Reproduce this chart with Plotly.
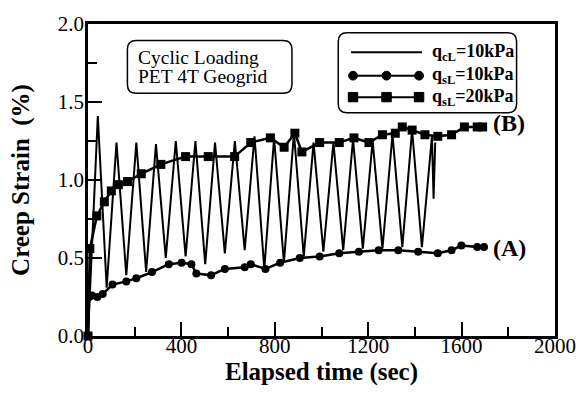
import plotly.graph_objects as go

# ---------------- data ----------------
# Cyclic loading, q_cL = 10 kPa (thin line)
cyc_t = [0, 42, 80, 122, 164, 207, 249, 291, 333, 376, 418, 460, 502, 544, 586,
         629, 671, 713, 755, 797, 839, 882, 924, 966, 1008, 1051, 1093, 1135,
         1177, 1219, 1261, 1304, 1346, 1388, 1430, 1473, 1480, 1487]
cyc_s = [0.00, 1.41, 0.31, 1.24, 0.39, 1.24, 0.41, 1.23, 0.50, 1.25, 0.51, 1.25,
         0.46, 1.24, 0.53, 1.25, 0.55, 1.28, 0.43, 1.27, 0.47, 1.30, 0.51, 1.24,
         0.54, 1.24, 0.55, 1.26, 0.56, 1.25, 0.56, 1.29, 0.57, 1.32, 0.57, 1.28,
         0.88, 1.24]

# Static loading, q_sL = 10 kPa (circles) -> curve (A)
a_t = [0, 5, 17, 40, 63, 105, 164, 207, 274, 346, 401, 443, 464, 527, 586, 671,
       697, 760, 823, 907, 992, 1076, 1160, 1245, 1329, 1414, 1498, 1557, 1599,
       1667, 1696]
a_s = [0.00, 0.25, 0.26, 0.25, 0.27, 0.33, 0.35, 0.37, 0.41, 0.46, 0.47, 0.46,
       0.40, 0.39, 0.43, 0.44, 0.46, 0.43, 0.47, 0.50, 0.51, 0.53, 0.54, 0.55,
       0.55, 0.54, 0.53, 0.55, 0.58, 0.57, 0.57]

# Static loading, q_sL = 20 kPa (squares) -> curve (B)
b_t = [0, 8, 38, 70, 100, 130, 169, 228, 312, 418, 515, 628, 697, 781, 840, 886,
       916, 992, 1076, 1139, 1203, 1261, 1316, 1346, 1388, 1443, 1498, 1557,
       1612, 1667, 1690]
b_s = [0.00, 0.56, 0.77, 0.86, 0.93, 0.97, 0.99, 1.04, 1.10, 1.15, 1.15, 1.15,
       1.24, 1.27, 1.21, 1.30, 1.18, 1.24, 1.24, 1.27, 1.24, 1.29, 1.30, 1.34,
       1.32, 1.29, 1.28, 1.29, 1.34, 1.34, 1.34]

x_ticks = [0, 400, 800, 1200, 1600, 2000]
y_ticks = [0.0, 0.5, 1.0, 1.5, 2.0]

legend_labels = ["q<sub>cL</sub>=10kPa", "q<sub>sL</sub>=10kPa", "q<sub>sL</sub>=20kPa"]
box_lines = ["Cyclic Loading", "PET 4T Geogrid"]

# ---------------- layout helpers ----------------
W, H = 588, 405
L, R, T, B = 88, 26, 16, 69
PW, PH = W - L - R, H - T - B
SERIF = "Liberation Serif, Times New Roman, serif"


def X(px):
    return (px - L) / PW


def Y(py):
    return (H - B - py) / PH


def rounded_rect(x0, y0, x1, y1, r):
    p = [
        f"M {X(x0 + r)},{Y(y0)}", f"L {X(x1 - r)},{Y(y0)}",
        f"Q {X(x1)},{Y(y0)} {X(x1)},{Y(y0 + r)}", f"L {X(x1)},{Y(y1 - r)}",
        f"Q {X(x1)},{Y(y1)} {X(x1 - r)},{Y(y1)}", f"L {X(x0 + r)},{Y(y1)}",
        f"Q {X(x0)},{Y(y1)} {X(x0)},{Y(y1 - r)}", f"L {X(x0)},{Y(y0 + r)}",
        f"Q {X(x0)},{Y(y0)} {X(x0 + r)},{Y(y0)}", "Z",
    ]
    return dict(type="path", xref="paper", yref="paper", path=" ".join(p),
                line=dict(color="black", width=1.5), fillcolor="rgba(0,0,0,0)")


fig = go.Figure()

fig.add_trace(go.Scatter(x=cyc_t, y=cyc_s, mode="lines", name=legend_labels[0],
                         line=dict(color="black", width=2), cliponaxis=False))
fig.add_trace(go.Scatter(x=a_t, y=a_s, mode="lines+markers", name=legend_labels[1],
                         line=dict(color="black", width=2.5),
                         marker=dict(symbol="circle", size=8, color="black"),
                         cliponaxis=False))
fig.add_trace(go.Scatter(x=b_t, y=b_s, mode="lines+markers", name=legend_labels[2],
                         line=dict(color="black", width=2.5),
                         marker=dict(symbol="square", size=9, color="black"),
                         cliponaxis=False))

shapes = [rounded_rect(128, 33, 295, 87, 9), rounded_rect(342, 25, 523, 107, 9)]
# legend samples
rows_y = [45, 69, 91]
shapes.append(dict(type="line", xref="paper", yref="paper",
                   x0=X(355), x1=X(427), y0=Y(rows_y[0]), y1=Y(rows_y[0]),
                   line=dict(color="black", width=2)))
for kind, yy in [("circle", rows_y[1]), ("rect", rows_y[2])]:
    shapes.append(dict(type="line", xref="paper", yref="paper",
                       x0=X(356), x1=X(425), y0=Y(yy), y1=Y(yy),
                       line=dict(color="black", width=2)))
    for cx in (357, 391, 424):
        r = 4.5 if kind == "circle" else 4.8
        shapes.append(dict(type=kind, xref="paper", yref="paper",
                           x0=X(cx - r), x1=X(cx + r), y0=Y(yy + r), y1=Y(yy - r),
                           fillcolor="black", line=dict(color="black", width=1)))

annotations = []
for lab, yy in zip(legend_labels, rows_y):
    annotations.append(dict(xref="paper", yref="paper", x=X(435), y=Y(yy),
                            xanchor="left", yanchor="middle", showarrow=False,
                            text=f"<b>{lab}</b>",
                            font=dict(family=SERIF, size=18, color="black")))
for line, yy in zip(box_lines, [50, 70]):
    annotations.append(dict(xref="paper", yref="paper", x=X(138), y=Y(yy),
                            xanchor="left", yanchor="middle", showarrow=False,
                            borderpad=0,
                            text=line, font=dict(family=SERIF, size=19.5, color="black")))
annotations.append(dict(xref="paper", yref="paper", x=X(497), y=Y(118),
                        xanchor="left", yanchor="middle", showarrow=False,
                        text="<b>(B)</b>", font=dict(family=SERIF, size=24, color="black")))
annotations.append(dict(xref="paper", yref="paper", x=X(497), y=Y(246),
                        xanchor="left", yanchor="middle", showarrow=False,
                        text="<b>(A)</b>", font=dict(family=SERIF, size=24, color="black")))

axis_common = dict(showgrid=False, zeroline=False, showline=True, linecolor="black",
                   linewidth=2.5, mirror=True, ticks="inside", tickcolor="black",
                   tickwidth=2, ticklen=14,
                   tickfont=dict(family=SERIF, size=21, color="black"))

fig.update_layout(
    width=W, height=H, margin=dict(l=L, r=R, t=T, b=B),
    paper_bgcolor="white", plot_bgcolor="white", showlegend=False,
    xaxis=dict(range=[0, 2000], tickvals=x_ticks, ticklabelstandoff=-11,
               minor=dict(dtick=200, ticks="inside", ticklen=9, tickwidth=2,
                          tickcolor="black"),
               title=dict(text="<b>Elapsed time (sec)</b>", standoff=0,
                          font=dict(family=SERIF, size=25, color="black")),
               **axis_common),
    yaxis=dict(range=[0, 2.0], tickvals=y_ticks, tickformat=".1f",
               ticklabelstandoff=-3,
               minor=dict(dtick=0.25, ticks="inside", ticklen=9, tickwidth=2,
                          tickcolor="black"),
               title=dict(text="<b>Creep Strain\u00a0 (%)</b>", standoff=22,
                          font=dict(family=SERIF, size=25, color="black")),
               **axis_common),
    shapes=shapes, annotations=annotations,
)

fig.write_html("out.html")
